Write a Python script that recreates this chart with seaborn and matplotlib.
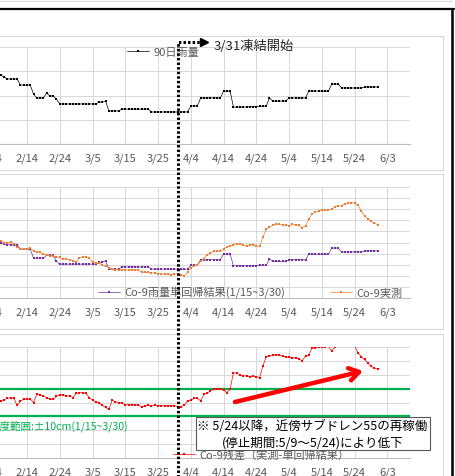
import numpy as np
import pandas as pd
import matplotlib
matplotlib.use('Agg')
import matplotlib.pyplot as plt
import seaborn as sns
from matplotlib.lines import Line2D
from matplotlib.patches import Rectangle

sns.set_style('white')
plt.rcParams['font.family'] = ['Noto Sans CJK JP', 'DejaVu Sans']

# ---- data (daily, 2024-02-04 .. 2024-05-31) ----
dates = pd.date_range('2024-02-04', '2024-05-31', freq='D')

rain_90 = [
    288, 286, 284, 276, 268, 268, 268, 268, 243, 243,
    243, 243, 206, 190, 190, 190, 210, 198, 198, 185,
    165, 165, 165, 165, 165, 165, 165, 165, 165, 165,
    165, 165, 173, 173, 177, 136, 136, 136, 136, 144,
    144, 144, 144, 144, 144, 144, 144, 144, 132, 132,
    132, 132, 132, 132, 132, 132, 132, 132, 132, 132,
    157, 157, 157, 190, 190, 190, 190, 190, 190, 190,
    218, 218, 218, 152, 152, 152, 152, 152, 154, 154,
    154, 156, 156, 156, 190, 177, 177, 177, 177, 177,
    190, 190, 190, 190, 190, 190, 218, 218, 218, 218,
    218, 218, 218, 247, 247, 247, 231, 231, 231, 231,
    231, 231, 231, 235, 235, 235, 235, 235,
]

co9_pred = [
    51, 50.5, 50, 49, 48, 48, 48, 48, 44, 44,
    44, 44, 36, 36, 36, 36, 38.5, 38.5, 38.5, 33,
    30.5, 30.5, 30.5, 30.5, 30.5, 30.5, 30.5, 30.5, 30.5, 30.5,
    30.5, 30.5, 32, 32.5, 33.5, 26, 26, 26, 26, 28,
    28, 28, 28, 28, 28, 28, 28, 28, 26, 26,
    26, 26, 26, 26, 26, 26, 26, 26, 26, 26,
    29.5, 29.5, 29.5, 34.5, 34.5, 34.5, 34.5, 34.5, 34.5, 34.5,
    39.5, 39.5, 39.5, 29, 29, 29, 29, 29, 29, 29,
    29, 29.5, 29.5, 29.5, 35, 33, 33, 33, 33, 33,
    34.5, 34.5, 34.5, 34.5, 34.5, 34.5, 39.5, 39.5, 39.5, 39.5,
    39.5, 39.5, 39.5, 45, 45, 45, 41.5, 41.5, 41.5, 41.5,
    41.5, 41.5, 41.5, 42.5, 42.5, 42.5, 42.5, 42.5,
]

co9_obs = [
    52, 51.5, 51.3, 50, 49.5, 50.5, 49, 46, 44, 44.5,
    44, 45, 42.5, 41.5, 41, 40, 38.5, 38, 37.5, 37,
    36.5, 35.5, 35, 34.5, 33.5, 32.5, 36, 37, 37, 36,
    32, 31.5, 31.5, 30, 29, 27, 26, 25.5, 25, 25.5,
    25.5, 25, 25, 25.5, 25, 23.5, 23, 23, 22.5, 22.5,
    22, 21.5, 21.5, 21.5, 21, 21.5, 22, 20.5, 20, 23,
    27, 29, 30, 33, 35.5, 39, 40.5, 42, 42.5, 42,
    44, 46, 47, 48, 49, 48.5, 47.5, 47, 48, 48,
    47, 46.5, 55, 62, 64, 65.5, 66.5, 66.5, 66, 65.5,
    65, 66.5, 66, 65.5, 63.5, 65, 71, 76, 77.5, 78,
    79, 79, 79.5, 80, 82, 83, 83, 85, 86, 86,
    85.5, 83.5, 78.5, 74, 71.5, 69, 67.5, 66,
]

co9_resid = [
    2, 1.5, 1.2, 2, 3, 3.5, 3, -2, 1, 2.4,
    2.4, 2.5, 0, 6, 5.5, 5, 3.5, 2.4, 2.5, 4.5,
    5.5, 5.5, 5, 4.5, 3.6, 6.5, 7.2, 7.2, 6.5, 3.6,
    1.5, 0.7, 0, -2, -3.6, -5, 1.7, 0.5, 0, -0.5,
    -1.7, -1.5, -1.7, -1.7, -2, -3, -2.5, -2, -2.4, -2,
    -2.4, -2.2, -2.4, -2.4, -2.2, -2.4, -3, -3, -2, 1.2,
    1.5, 2.9, 3, 1.2, 6, 6.5, 8.5, 9.6, 9.6, 9.6,
    9, 7.2, 9.6, 21.6, 21, 20, 19.2, 19.2, 18.5, 19,
    18.5, 18, 26.4, 32.9, 33.5, 34.3, 34.5, 34, 33.5, 33,
    32.5, 32.4, 32, 31.5, 30, 33.6, 34, 39.6, 39.6, 40,
    40, 40.3, 40.5, 37.2, 40, 42, 43, 44, 45, 44.5,
    40.8, 36, 33, 31, 28.5, 26, 25, 24,
]

tick_dates = pd.date_range('2024-01-15', '2024-06-03', freq='10D')
tick_labels = [f"{t.month}/{t.day}" for t in tick_dates]
x_min, x_max = pd.Timestamp('2024-01-15'), pd.Timestamp('2024-06-10')

# ---- layout helpers (image pixels, top-left origin) ----
W, H = 455, 477
PX_DAY = 3.277
X_FEB4 = -5.8


def xpix(ts):
    return X_FEB4 + PX_DAY * (ts - pd.Timestamp('2024-02-04')).days


def fx(x):
    return x / W


def fy(y):
    return 1 - y / H


L, R = xpix(x_min), xpix(x_max)
fig = plt.figure(figsize=(W / 100, H / 100), dpi=100)
fig.patch.set_facecolor('white')

GRID = '#d9d9d9'
TXT = '#595959'

# panel frames and outer lines
for top, bot in [(37, 171), (175, 330), (335, 490)]:
    fig.add_artist(Rectangle((fx(-10), fy(bot)), fx(443 + 10), (bot - top) / H,
                             transform=fig.transFigure, fill=False,
                             ec=GRID, lw=0.8))
fig.add_artist(Rectangle((fx(-10), fy(2)), fx(451 + 10), 12 / H,
                         transform=fig.transFigure, fill=False, ec=GRID, lw=0.8))
fig.add_artist(Line2D([0, fx(453.5)], [fy(10), fy(10)], transform=fig.transFigure,
                      color='black', lw=1.6))
fig.add_artist(Line2D([fx(452.3), fx(452.3)], [fy(10), fy(480)],
                      transform=fig.transFigure, color='black', lw=1.8))


def add_panel(top, bot, ylim, ystep):
    ax = fig.add_axes([fx(L), fy(bot), (R - L) / W, (bot - top) / H])
    ax.set_facecolor('none')
    ax.set_xlim(x_min, x_max)
    ax.set_ylim(*ylim)
    ax.set_yticks(np.arange(ylim[0], ylim[1] + 0.1, ystep))
    ax.set_xticks(tick_dates)
    ax.set_xticklabels(tick_labels)
    ax.grid(True, color=GRID, lw=0.75)
    ax.set_axisbelow(True)
    for s in ['top', 'right', 'left']:
        ax.spines[s].set_visible(False)
    ax.spines['bottom'].set_color('#bfbfbf')
    ax.spines['bottom'].set_linewidth(0.8)
    ax.tick_params(axis='x', length=0, pad=6, labelsize=8, labelcolor=TXT)
    ax.tick_params(axis='y', length=0, labelleft=False)
    ax.set_xlabel('')
    ax.set_ylabel('')
    return ax


mk = dict(marker='s', markersize=1.7, markeredgewidth=0, linewidth=0.5)

# panel 1 : 90-day rainfall
ax1 = add_panel(48, 145, (0, 400), 100)
sns.lineplot(x=dates, y=rain_90, ax=ax1, color='black', label='90日雨量', **mk)
ax1.set_xlabel('')
ax1.legend(loc='center left', bbox_to_anchor=(fx(127), fy(53)),
           bbox_transform=fig.transFigure, frameon=False, borderpad=0,
           borderaxespad=0, handlelength=2, handletextpad=0.4,
           fontsize=8, labelcolor=TXT)

# panel 2 : regression vs measured
ax2 = add_panel(188, 299, (0, 100), 10)
sns.lineplot(x=dates, y=co9_pred, ax=ax2, color='#7030a0',
             label='Co-9雨量単回帰結果(1/15~3/30)', **mk)
sns.lineplot(x=dates, y=co9_obs, ax=ax2, color='#ed7d31', label='Co-9実測', **mk)
ax2.set_xlabel('')
ax2.legend(loc='center left', bbox_to_anchor=(fx(98), fy(293)),
           bbox_transform=fig.transFigure, frameon=False, borderpad=0,
           borderaxespad=0, handlelength=2, handletextpad=0.4, ncol=2,
           columnspacing=4.0, fontsize=8, labelcolor=TXT)

# panel 3 : residual
ax3 = add_panel(348, 459, (-40, 40), 10)
ax3.axhline(10, color='#00b050', lw=1.6, zorder=1.5)
ax3.axhline(-10, color='#00b050', lw=1.6, zorder=1.5)
sns.lineplot(x=dates, y=co9_resid, ax=ax3, color='red',
             label='Co-9残差（実測-単回帰結果）', **mk)
ax3.set_xlabel('')
ax3.legend(loc='center left', bbox_to_anchor=(fx(173), fy(455)),
           bbox_transform=fig.transFigure, frameon=False, borderpad=0,
           borderaxespad=0, handlelength=2, handletextpad=0.4,
           fontsize=8, labelcolor=TXT)

fig.text(fx(-10.5), fy(426), '精度範囲:±10cm(1/15~3/30)', color='#00b050',
         fontsize=7.6, ha='left', va='center')

# red trend arrow
fig.add_artist(matplotlib.patches.FancyArrowPatch(
    (fx(235), fy(403)), (fx(363), fy(372)), transform=fig.transFigure,
    arrowstyle='->,head_length=7,head_width=4.5', color='red', lw=3.2,
    shrinkA=0, shrinkB=0, zorder=5))

# note box
fig.text(fx(312.5), fy(434.5),
         '※ 5/24以降，近傍サブドレン55の再稼働\n(停止期間:5/9〜5/24)により低下',
         fontsize=9, ha='center', va='center', color='black', linespacing=1.3,
         zorder=6,
         bbox=dict(boxstyle='square,pad=0.15', fc='white', ec='#595959', lw=0.8))

# 3/31 freeze start marker
xf = xpix(pd.Timestamp('2024-03-31'))
fig.add_artist(Line2D([fx(xf), fx(xf), fx(201)], [fy(480), fy(43), fy(43)],
                      transform=fig.transFigure, color='black', lw=2.2,
                      linestyle=(0, (0.8, 0.7)), zorder=7))
fig.add_artist(Line2D([fx(204)], [fy(43)], transform=fig.transFigure,
                      marker='>', markersize=6, color='black', zorder=7))
fig.text(fx(214), fy(46), '3/31凍結開始', fontsize=9.5, ha='left', va='center',
         color='#262626')

fig.savefig('out.png', dpi=100)
